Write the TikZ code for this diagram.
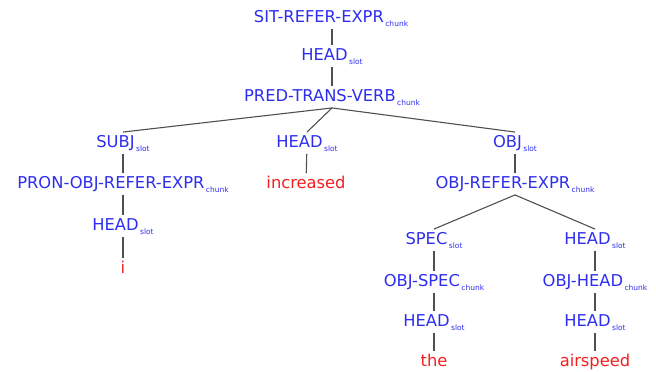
\documentclass[tikz,border=0pt]{standalone}
\usepackage{fontspec}
\setmainfont{DejaVu Sans}
\newcommand\subtag[1]{\kern1.5pt\raisebox{-0.25em}{\fontsize{7.5}{7.5}\selectfont #1}}
\definecolor{lblblue}{RGB}{45,45,240}
\definecolor{lblred}{RGB}{245,30,30}
\definecolor{edgegray}{RGB}{80,80,80}
\tikzset{
  lab/.style={text=lblblue, font=\fontsize{16.3}{16.3}\selectfont, inner xsep=0pt, inner ysep=3.5pt, text height=11.5pt, text depth=3pt},
  word/.style={lab, text=lblred},
  edge/.style={draw=edgegray, line width=1.1pt}
}
\begin{document}
\begin{tikzpicture}[x=1pt,y=-1pt]
\useasboundingbox (0,0) rectangle (656,372);
% top spine
\node[lab] (sit) at (331,18) {SIT-REFER-EXPR\subtag{chunk}};
\node[lab] (h1) at (332,56) {HEAD\subtag{slot}};
\node[lab] (pred) at (332,97) {PRED-TRANS-VERB\subtag{chunk}};
% second row
\node[lab] (subj) at (123,143) {SUBJ\subtag{slot}};
\node[lab] (h2) at (307,143) {HEAD\subtag{slot}};
\node[lab] (obj) at (515,143) {OBJ\subtag{slot}};
% third row
\node[lab] (pron) at (123,184) {PRON-OBJ-REFER-EXPR\subtag{chunk}};
\node[word] (inc) at (306,184) {increased};
\node[lab] (oref) at (515,184) {OBJ-REFER-EXPR\subtag{chunk}};
% left subtree
\node[lab] (h3) at (123,226) {HEAD\subtag{slot}};
\node[word] (i) at (123,269) {i};
% right subtree
\node[lab] (spec) at (434,240) {SPEC\subtag{slot}};
\node[lab] (h4) at (595,240) {HEAD\subtag{slot}};
\node[lab] (ospec) at (434,282) {OBJ-SPEC\subtag{chunk}};
\node[lab] (ohead) at (595,282) {OBJ-HEAD\subtag{chunk}};
\node[lab] (h5) at (434,322) {HEAD\subtag{slot}};
\node[lab] (h6) at (595,322) {HEAD\subtag{slot}};
\node[word] (the) at (434,362) {the};
\node[word] (air) at (595,362) {airspeed};
% connectors
\draw[edge] (sit.south -| h1) -- (h1.north);
\draw[edge] (h1) -- (pred.north -| h1);
\draw[edge] (pred.south) -- (subj.north);
\draw[edge] (pred.south) -- (h2.north);
\draw[edge] (pred.south) -- (obj.north);
\draw[edge] (subj) -- (pron);
\draw[edge] (h2) -- (inc);
\draw[edge] (obj) -- (oref);
\draw[edge] (pron) -- (h3);
\draw[edge] (h3) -- (i);
\draw[edge] (oref.south) -- (spec.north);
\draw[edge] (oref.south) -- (h4.north);
\draw[edge] (spec) -- (ospec);
\draw[edge] (ospec) -- (h5);
\draw[edge] (h5) -- (the);
\draw[edge] (h4) -- (ohead);
\draw[edge] (ohead) -- (h6);
\draw[edge] (h6) -- (air);
\end{tikzpicture}
\end{document}
